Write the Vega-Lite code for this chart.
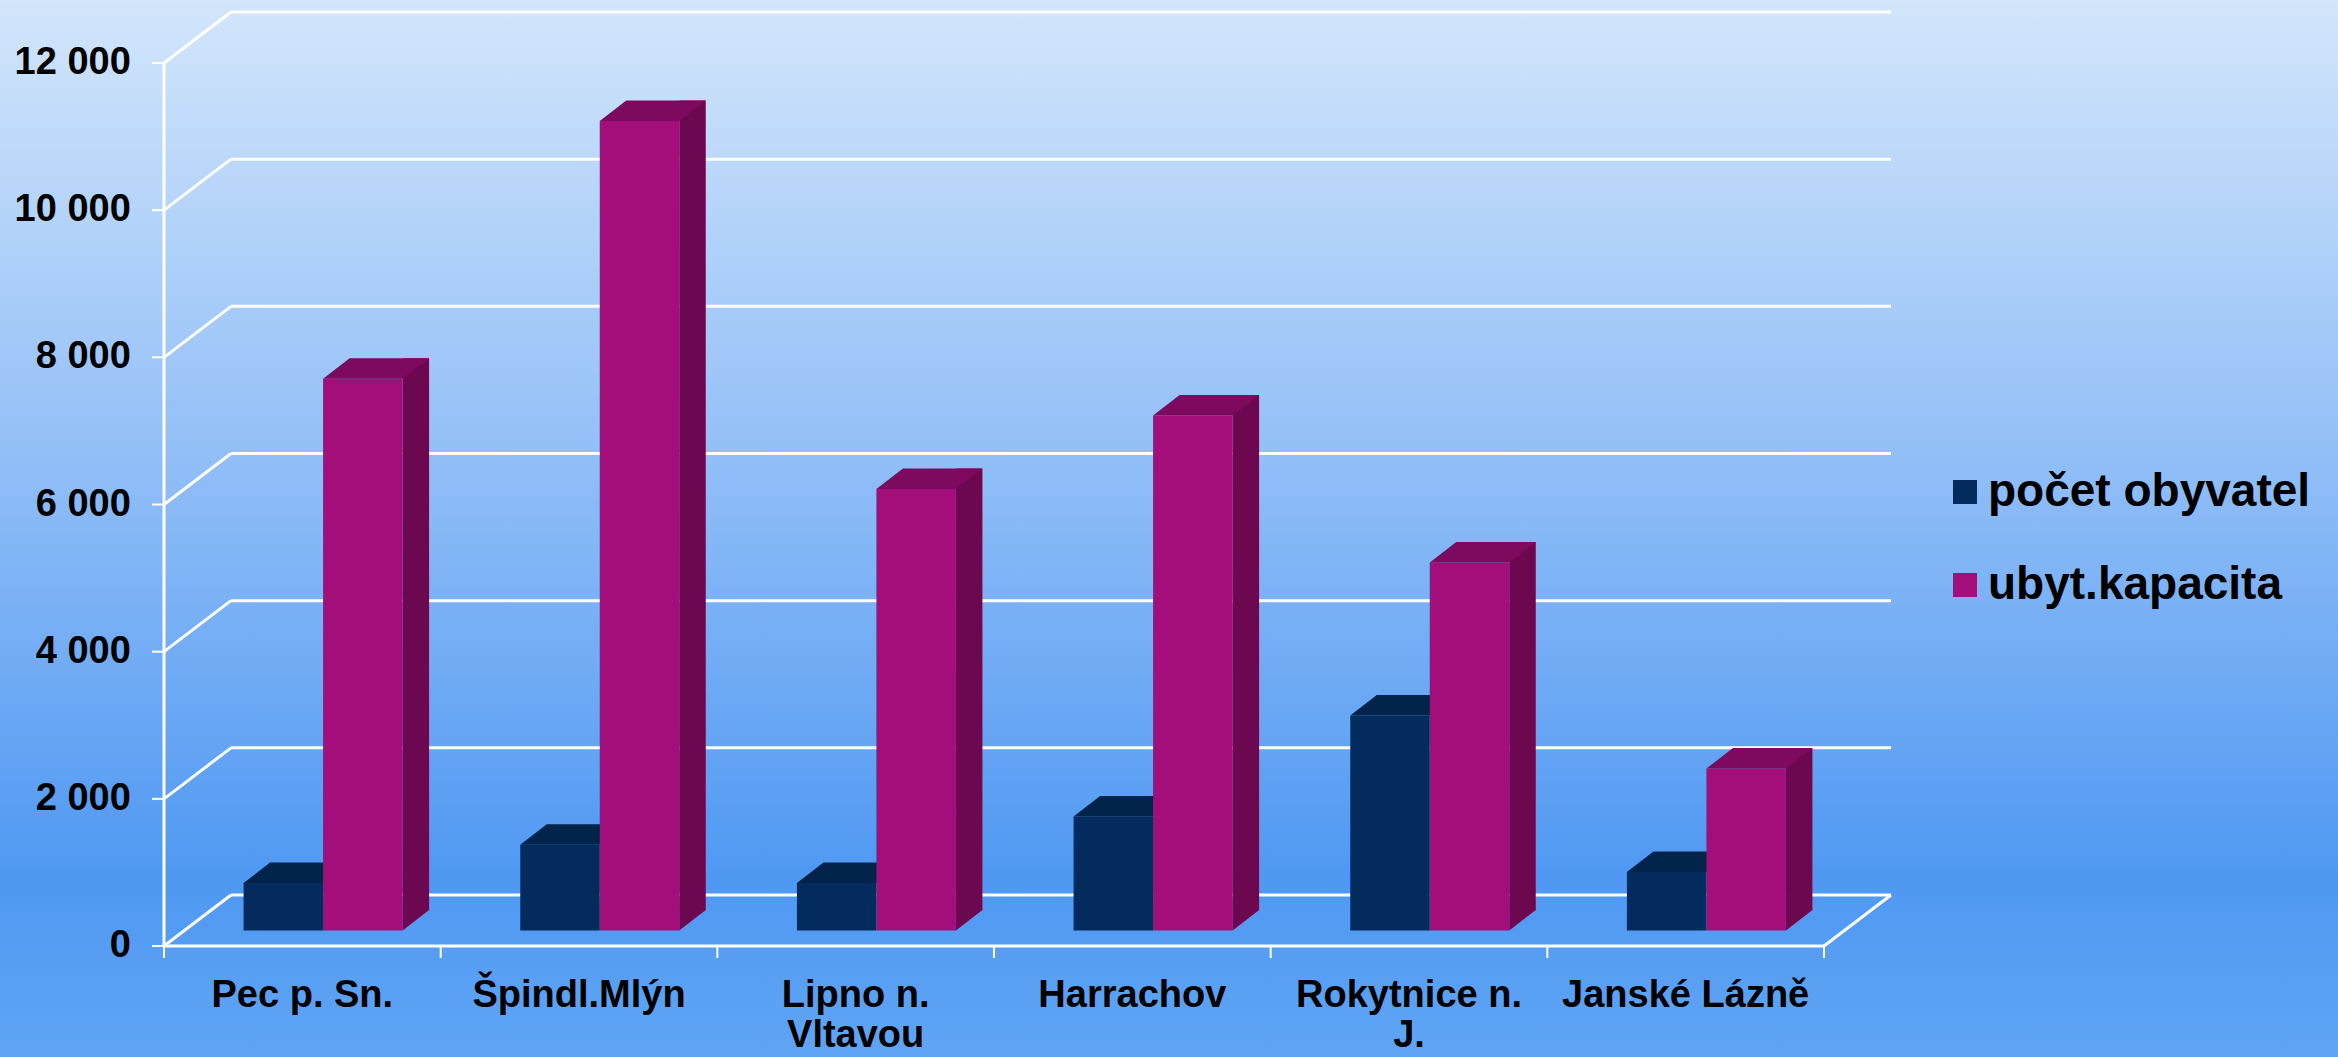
{
  "$schema": "https://vega.github.io/schema/vega-lite/v6.json",
  "width": 2338,
  "height": 1057,
  "autosize": "none",
  "padding": 0,
  "background": "#5ea4f4",
  "config": {
    "view": {
      "stroke": null,
      "fill": {
        "gradient": "linear",
        "x1": 0, "y1": 0, "x2": 0, "y2": 1,
        "stops": [
          {"offset": 0, "color": "#d3e6fb"},
          {"offset": 0.45, "color": "#8fbdf7"},
          {"offset": 0.83, "color": "#4f98f2"},
          {"offset": 1, "color": "#60a5f4"}
        ]
      }
    },
    "font": "Liberation Sans",
    "locale": {"number": {"decimal": ",", "thousands": " ", "grouping": [3], "currency": ["", " Kč"]}}
  },
  "datasets": {
    "hodnoty": [
      {"misto": "Pec p. Sn.", "ukazatel": "počet obyvatel", "hodnota": 645},
      {"misto": "Špindl.Mlýn", "ukazatel": "počet obyvatel", "hodnota": 1167},
      {"misto": "Lipno n. Vltavou", "ukazatel": "počet obyvatel", "hodnota": 645},
      {"misto": "Harrachov", "ukazatel": "počet obyvatel", "hodnota": 1549},
      {"misto": "Rokytnice n. J.", "ukazatel": "počet obyvatel", "hodnota": 2921},
      {"misto": "Janské Lázně", "ukazatel": "počet obyvatel", "hodnota": 795},
      {"misto": "Pec p. Sn.", "ukazatel": "ubyt.kapacita", "hodnota": 7500},
      {"misto": "Špindl.Mlýn", "ukazatel": "ubyt.kapacita", "hodnota": 11000},
      {"misto": "Lipno n. Vltavou", "ukazatel": "ubyt.kapacita", "hodnota": 6000},
      {"misto": "Harrachov", "ukazatel": "ubyt.kapacita", "hodnota": 7000},
      {"misto": "Rokytnice n. J.", "ukazatel": "ubyt.kapacita", "hodnota": 5000},
      {"misto": "Janské Lázně", "ukazatel": "ubyt.kapacita", "hodnota": 2200}
    ],
    "mrizka": [
      {"v": 0}, {"v": 2000}, {"v": 4000}, {"v": 6000}, {"v": 8000}, {"v": 10000}, {"v": 12000}
    ]
  },
  "layer": [
    {
      "data": {"name": "mrizka"},
      "mark": {"type": "rule", "color": "white", "strokeWidth": 3, "xOffset": -71.33, "x2Offset": 205.33, "yOffset": -51},
      "encoding": {
        "x": {
          "datum": "Pec p. Sn.", "type": "nominal",
          "scale": {
            "type": "band",
            "domain": ["Pec p. Sn.", "Špindl.Mlýn", "Lipno n. Vltavou", "Harrachov", "Rokytnice n. J.", "Janské Lázně"],
            "range": [164, 1824],
            "paddingInner": 0,
            "paddingOuter": 0
          },
          "axis": null
        },
        "x2": {"datum": "Janské Lázně"},
        "y": {
          "field": "v", "type": "quantitative",
          "scale": {"domain": [0, 12000], "range": [946, 63], "nice": false, "zero": true},
          "axis": null
        }
      }
    },
    {
      "data": {"name": "mrizka"},
      "mark": {"type": "rule", "color": "white", "strokeWidth": 3, "xOffset": -138.33, "x2Offset": -71.33, "y2Offset": -51},
      "encoding": {
        "x": {"datum": "Pec p. Sn.", "type": "nominal", "axis": null},
        "x2": {"datum": "Pec p. Sn."},
        "y": {"field": "v", "type": "quantitative", "axis": null},
        "y2": {"field": "v"}
      }
    },
    {
      "data": {"name": "mrizka"},
      "transform": [{"filter": "datum.v == 0"}],
      "mark": {"type": "rule", "color": "white", "strokeWidth": 3, "xOffset": 138.33, "x2Offset": 205.33, "y2Offset": -51},
      "encoding": {
        "x": {"datum": "Janské Lázně", "type": "nominal", "axis": null},
        "x2": {"datum": "Janské Lázně"},
        "y": {"field": "v", "type": "quantitative", "axis": null},
        "y2": {"field": "v"}
      }
    },
    {
      "data": {"name": "mrizka"},
      "transform": [{"filter": "datum.v == 0"}],
      "mark": {"type": "rule", "color": "white", "strokeWidth": 3, "xOffset": -138.33},
      "encoding": {
        "x": {"datum": "Pec p. Sn.", "type": "nominal", "axis": null},
        "y": {"field": "v", "type": "quantitative", "axis": null},
        "y2": {"datum": 12000}
      }
    },
    {
      "data": {"name": "mrizka"},
      "mark": {"type": "rule", "color": "white", "strokeWidth": 2, "xOffset": -150.33, "x2Offset": -138.33},
      "encoding": {
        "x": {"datum": "Pec p. Sn.", "type": "nominal", "axis": null},
        "x2": {"datum": "Pec p. Sn."},
        "y": {"field": "v", "type": "quantitative", "axis": null}
      }
    },
    {
      "data": {"name": "mrizka"},
      "mark": {"type": "text", "align": "right", "baseline": "middle", "xOffset": -171.5, "font": "Liberation Sans", "fontSize": 38, "fontWeight": "bold", "color": "black"},
      "encoding": {
        "x": {"datum": "Pec p. Sn.", "type": "nominal", "axis": null},
        "y": {"field": "v", "type": "quantitative", "axis": null},
        "text": {"field": "v", "type": "quantitative", "format": ","}
      }
    },
    {
      "data": {"name": "mrizka"},
      "transform": [{"filter": "datum.v == 0"}],
      "mark": {"type": "rule", "color": "white", "strokeWidth": 3, "xOffset": -138.33, "x2Offset": 138.33},
      "encoding": {
        "x": {"datum": "Pec p. Sn.", "type": "nominal", "axis": null},
        "x2": {"datum": "Janské Lázně"},
        "y": {"field": "v", "type": "quantitative", "axis": null}
      }
    },
    {
      "data": {"name": "hodnoty"},
      "transform": [{"filter": "datum.ukazatel == 'počet obyvatel'"}],
      "mark": {"type": "rule", "color": "white", "strokeWidth": 2, "xOffset": -138.33, "y2Offset": 12},
      "encoding": {
        "x": {"field": "misto", "type": "nominal", "axis": null},
        "y": {"datum": 0, "type": "quantitative", "axis": null},
        "y2": {"datum": 0}
      }
    },
    {
      "data": {"name": "mrizka"},
      "transform": [{"filter": "datum.v == 0"}],
      "mark": {"type": "rule", "color": "white", "strokeWidth": 2, "xOffset": 138.33, "y2Offset": 12},
      "encoding": {
        "x": {"datum": "Janské Lázně", "type": "nominal", "axis": null},
        "y": {"field": "v", "type": "quantitative", "axis": null},
        "y2": {"field": "v"}
      }
    },
    {
      "data": {"name": "hodnoty"},
      "transform": [{"filter": "datum.ukazatel == 'počet obyvatel'"}],
      "mark": {"type": "text", "align": "center", "baseline": "alphabetic", "yOffset": 61, "lineHeight": 40, "font": "Liberation Sans", "fontSize": 38, "fontWeight": "bold", "color": "black"},
      "encoding": {
        "x": {"field": "misto", "type": "nominal", "axis": null},
        "y": {"datum": 0, "type": "quantitative", "axis": null},
        "text": {
          "condition": [
            {"test": "datum.misto == 'Lipno n. Vltavou'", "value": ["Lipno n.", "Vltavou"]},
            {"test": "datum.misto == 'Rokytnice n. J.'", "value": ["Rokytnice n.", "J."]}
          ],
          "field": "misto", "type": "nominal"
        }
      }
    },
    {
      "data": {"name": "hodnoty"},
      "transform": [{"filter": "datum.ukazatel == 'počet obyvatel'"}],
      "mark": {"type": "bar", "width": 79.5, "xOffset": -19, "yOffset": -15.5, "y2Offset": -15.5, "strokeWidth": 0},
      "encoding": {
        "x": {"field": "misto", "type": "nominal", "axis": null},
        "y": {"field": "hodnota", "type": "quantitative", "axis": null},
        "color": {
          "field": "ukazatel", "type": "nominal",
          "scale": {"domain": ["počet obyvatel", "ubyt.kapacita"], "range": ["#042b5e", "#a30e7b"]},
          "legend": {
            "title": null,
            "orient": "none",
            "legendX": 1942,
            "legendY": 469,
            "padding": 0,
            "symbolType": "square",
            "symbolSize": 576,
            "symbolStrokeWidth": 0,
            "labelFont": "Liberation Sans",
            "labelFontSize": 46,
            "labelFontWeight": "bold",
            "labelColor": "black",
            "labelOffset": 0,
            "labelLimit": 500,
            "rowPadding": 47
          }
        }
      }
    },
    {
      "data": {"name": "hodnoty"},
      "transform": [{"filter": "datum.ukazatel == 'počet obyvatel'"}],
      "mark": {"type": "point", "shape": "M -58.75 -15.5 L 20.75 -15.5 L 47.25 -36 L -32.25 -36 Z", "size": 4, "filled": true, "color": "#02244b", "opacity": 1, "strokeWidth": 0},
      "encoding": {
        "x": {"field": "misto", "type": "nominal", "axis": null},
        "y": {"field": "hodnota", "type": "quantitative", "axis": null}
      }
    },
    {
      "data": {"name": "hodnoty"},
      "transform": [{"filter": "datum.ukazatel == 'ubyt.kapacita'"}],
      "mark": {"type": "bar", "width": 26.5, "xOffset": 113.5, "yOffset": -36, "y2Offset": -36, "color": "#6b0850", "strokeWidth": 0},
      "encoding": {
        "x": {"field": "misto", "type": "nominal", "axis": null},
        "y": {"field": "hodnota", "type": "quantitative", "axis": null}
      }
    },
    {
      "data": {"name": "hodnoty"},
      "transform": [{"filter": "datum.ukazatel == 'ubyt.kapacita'"}],
      "mark": {"type": "point", "shape": "M 100.25 -15.5 L 100.25 -37 L 126.75 -37 L 126.75 -36 Z", "size": 4, "filled": true, "color": "#6b0850", "opacity": 1, "strokeWidth": 0},
      "encoding": {
        "x": {"field": "misto", "type": "nominal", "axis": null},
        "y": {"datum": 0, "type": "quantitative", "axis": null}
      }
    },
    {
      "data": {"name": "hodnoty"},
      "transform": [{"filter": "datum.ukazatel == 'ubyt.kapacita'"}],
      "mark": {"type": "bar", "width": 79.5, "xOffset": 60.5, "yOffset": -15.5, "y2Offset": -15.5, "strokeWidth": 0},
      "encoding": {
        "x": {"field": "misto", "type": "nominal", "axis": null},
        "y": {"field": "hodnota", "type": "quantitative", "axis": null},
        "color": {"field": "ukazatel", "type": "nominal"}
      }
    },
    {
      "data": {"name": "hodnoty"},
      "transform": [{"filter": "datum.ukazatel == 'ubyt.kapacita'"}],
      "mark": {"type": "point", "shape": "M 20.75 -15.5 L 100.25 -15.5 L 126.75 -36 L 47.25 -36 Z", "size": 4, "filled": true, "color": "#7d0a5e", "opacity": 1, "strokeWidth": 0},
      "encoding": {
        "x": {"field": "misto", "type": "nominal", "axis": null},
        "y": {"field": "hodnota", "type": "quantitative", "axis": null}
      }
    }
  ]
}
